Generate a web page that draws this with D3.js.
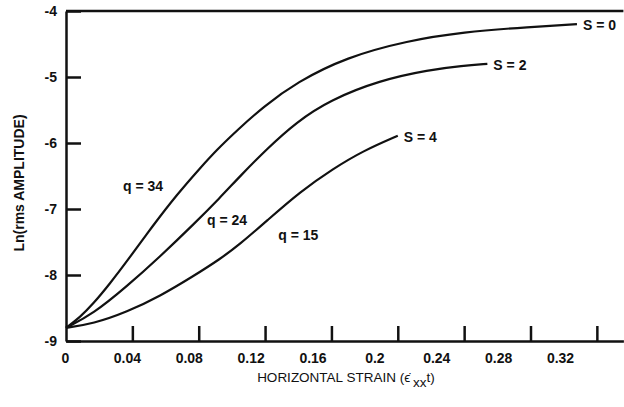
<!DOCTYPE html>
<html>
<head>
<meta charset="utf-8">
<script src="https://cdn.jsdelivr.net/npm/d3@7"></script>
<style>
  body { margin: 0; background: #fff; }
  text { font-family: "Liberation Sans", Arial, sans-serif; fill: #111; }
</style>
</head>
<body>
<div id="chart"></div>
<script>
// values: strain (x) and ln(rms amplitude) (y)
var s0Strain = [0, 0.0084, 0.0163, 0.0265, 0.0368, 0.0524, 0.0669, 0.0808, 0.091, 0.103, 0.119, 0.139, 0.169, 0.206, 0.239, 0.280, 0.308];
var s0Amp    = [-8.80, -8.64, -8.44, -8.13, -7.79, -7.25, -6.78, -6.38, -6.10, -5.81, -5.45, -5.08, -4.70, -4.45, -4.32, -4.24, -4.20];

var s2Strain = [0, 0.0163, 0.0368, 0.0567, 0.0766, 0.0928, 0.105, 0.121, 0.139, 0.159, 0.189, 0.219, 0.239, 0.254];
var s2Amp    = [-8.80, -8.59, -8.17, -7.72, -7.24, -6.83, -6.50, -6.09, -5.68, -5.35, -5.05, -4.89, -4.83, -4.80];

var s4Strain = [0, 0.0163, 0.0368, 0.0567, 0.0766, 0.0928, 0.105, 0.121, 0.141, 0.161, 0.179, 0.200];
var s4Amp    = [-8.80, -8.74, -8.56, -8.32, -8.02, -7.76, -7.53, -7.18, -6.74, -6.39, -6.12, -5.89];

var sLabels = ["S = 0", "S = 2", "S = 4"];
var qLabels = ["q = 34", "q = 24", "q = 15"];
var qLabelStrain = [0.0344, 0.085, 0.128];
var qLabelAmp = [-6.73, -7.24, -7.47];

var xTicks = [0, 0.04, 0.08, 0.12, 0.16, 0.2, 0.24, 0.28, 0.32];
var xTickLabels = ["0", "0.04", "0.08", "0.12", "0.16", "0.2", "0.24", "0.28", "0.32"];
var yTicks = [-4, -5, -6, -7, -8, -9];

var width = 624, height = 407;

var svg = d3.select('#chart').append('svg')
    .attr('width', width)
    .attr('height', height)
    .style('background', '#fff');

var x = d3.scaleLinear().domain([0, 0.336]).range([66, 623.4]);
// printed numbers in the original drift away from the tick marks
var xLab = d3.scaleLinear().domain([0, 0.32]).range([65, 560]);
var y = d3.scaleLinear().domain([-9, -4]).range([341, 11]);

// top frame line
svg.append('line')
    .attr('x1', x(0)).attr('x2', x(0.336))
    .attr('y1', y(-4)).attr('y2', y(-4))
    .style('stroke', '#111').style('stroke-width', 2.5);

var yAxis = svg.append('g')
    .attr('transform', 'translate(' + x(0) + ',0)')
    .call(d3.axisLeft(y).tickValues(yTicks).tickSize(-15).tickSizeOuter(0).tickPadding(9)
        .tickFormat(function (d) { return d; }));

var xAxis = svg.append('g')
    .attr('transform', 'translate(0,' + y(-9) + ')')
    .call(d3.axisBottom(x).tickValues(xTicks.slice(1)).tickSize(-15).tickSizeOuter(0).tickFormat(''));

var xLabels = svg.append('g')
    .attr('transform', 'translate(0,' + y(-9) + ')')
    .call(d3.axisBottom(xLab).tickValues(xTicks).tickSize(0).tickPadding(12)
        .tickFormat(function (d, i) { return xTickLabels[i]; }));
xLabels.select('.domain').remove();

svg.selectAll('.domain, .tick line').style('stroke', '#111').style('stroke-width', 2.5);
svg.selectAll('.tick text')
    .style('font-size', '14px').style('font-weight', 'bold')
    .style('font-family', '"Liberation Sans", Arial, sans-serif').style('fill', '#111');

var series = [
    { strain: s0Strain, amp: s0Amp },
    { strain: s2Strain, amp: s2Amp },
    { strain: s4Strain, amp: s4Amp }
];

var line = d3.line()
    .x(function (d) { return x(d[0]); })
    .y(function (d) { return y(d[1]); })
    .curve(d3.curveBasis);

series.forEach(function (s, i) {
    var pts = s.strain.map(function (v, j) { return [v, s.amp[j]]; });
    svg.append('path')
        .attr('d', line(pts))
        .style('fill', 'none')
        .style('stroke', '#111')
        .style('stroke-width', 2.2);

    var last = pts[pts.length - 1];
    svg.append('text')
        .attr('x', x(last[0]) + 6)
        .attr('y', y(last[1]) + 6)
        .style('font-size', '14px').style('font-weight', 'bold')
        .text(sLabels[i]);

    svg.append('text')
        .attr('x', x(qLabelStrain[i]))
        .attr('y', y(qLabelAmp[i]))
        .style('font-size', '14px').style('font-weight', 'bold')
        .text(qLabels[i]);
});

// axis titles
var xt = svg.append('text')
    .attr('x', 346)
    .attr('y', 382)
    .attr('text-anchor', 'middle')
    .style('font-size', '13.5px');
xt.append('tspan').text('HORIZONTAL STRAIN (\u03F5\u0307');
xt.append('tspan').attr('dy', 5).attr('dx', 3).text('xx');
xt.append('tspan').attr('dy', -5).text('t)');

svg.append('text')
    .attr('transform', 'translate(24,183) rotate(-90)')
    .attr('text-anchor', 'middle')
    .style('font-size', '14px').style('font-weight', 'bold')
    .text('Ln(rms AMPLITUDE)');
</script>
</body>
</html>
